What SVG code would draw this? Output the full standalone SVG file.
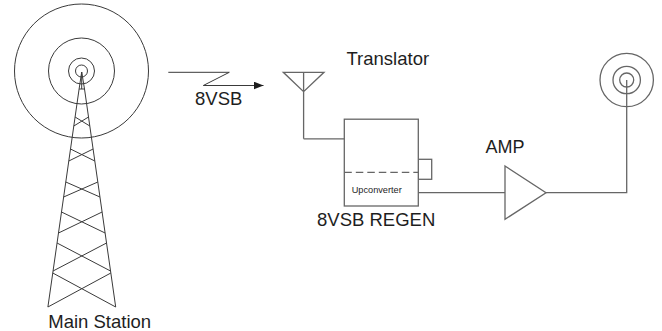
<svg xmlns="http://www.w3.org/2000/svg" width="662" height="331" viewBox="0 0 662 331">
<defs>
<style>
.t{font-family:"Liberation Sans",Arial,sans-serif;fill:#1e1e1e;}
.tw{fill:none;stroke:#3a3a3a;stroke-width:1;}
.ln{fill:none;stroke:#666;stroke-width:1.3;}
.bx{fill:#fff;stroke:#666;stroke-width:1.3;}
</style>
<marker id="ah" markerWidth="10" markerHeight="8" refX="10" refY="4" orient="auto" markerUnits="userSpaceOnUse">
<path d="M0,0 L10,4 L0,8 Z" fill="#1e1e1e"/>
</marker>
</defs>
<rect width="662" height="331" fill="#fff"/>
<g id="main-station">
<circle class="tw" cx="81.5" cy="71" r="67"/>
<circle class="tw" cx="81.5" cy="71" r="33"/>
<circle class="tw" cx="81.5" cy="71" r="13"/>
<circle class="tw" cx="81.5" cy="71" r="6"/>
<path class="tw" d="M81.7,72 L79.1,89 L47.9,307 M81.7,72 L84.5,89 L115.7,307 M79.1,89 H84.5 M81.7,72 V89"/>
<path class="tw" d="M75.1,117 L89.8,126 M88.5,117 L73.8,126
M70.5,149 L94.8,161 M93.1,149 L68.8,161
M65.8,182 L99.95,197 M97.8,182 L63.65,197
M61.5,212 L105.1,233 M102.1,212 L58.5,233
M57.06,243 L110.54,271 M106.54,243 L53.06,271
M52.77,273 L115.7,307 M110.83,273 L47.9,307"/>
<text class="t" x="48.3" y="327.5" font-size="18.5">Main Station</text>
</g>
<g id="signal">
<path class="tw" d="M168.3,72.3 H229.3 L203.3,85.5 H263.5" marker-end="url(#ah)"/>
<text class="t" x="195" y="105" font-size="18.5">8VSB</text>
</g>
<g id="translator">
<path class="ln" d="M283.3,72.3 H324 L303.6,91.7 Z M303.6,72.3 V138.8"/>
<text class="t" x="346.5" y="65" font-size="18.5">Translator</text>
</g>
<g id="regen">
<rect class="bx" x="418.3" y="159.3" width="13.4" height="20"/>
<rect class="bx" x="344.3" y="119.2" width="74" height="86.8"/>
<line class="ln" x1="344.3" y1="172.3" x2="418.3" y2="172.3" stroke-dasharray="7.5 4"/>
<text class="t" x="351.7" y="192.5" font-size="9.2">Upconverter</text>
<text class="t" x="317" y="226" font-size="18.5">8VSB REGEN</text>
</g>
<g id="amp">
<path class="bx" d="M505,166 L546,192.7 L505,219.3 Z"/>
<text class="t" x="485.5" y="152.7" font-size="18">AMP</text>
</g>
<g id="tx-antenna">
<circle class="ln" cx="626.7" cy="80" r="26.7" stroke-width="1.1"/>
<circle class="ln" cx="626.7" cy="80" r="13.7" stroke-width="1.1"/>
<circle class="ln" cx="626.7" cy="80" r="7" stroke-width="1.1"/>
</g>
<g id="connectors">
<path class="ln" d="M303.6,138.8 H344.3"/>
<path class="ln" d="M418.3,192.7 H505"/>
<path class="ln" d="M546,192.7 H626.7 V80"/>
</g>
</svg>
